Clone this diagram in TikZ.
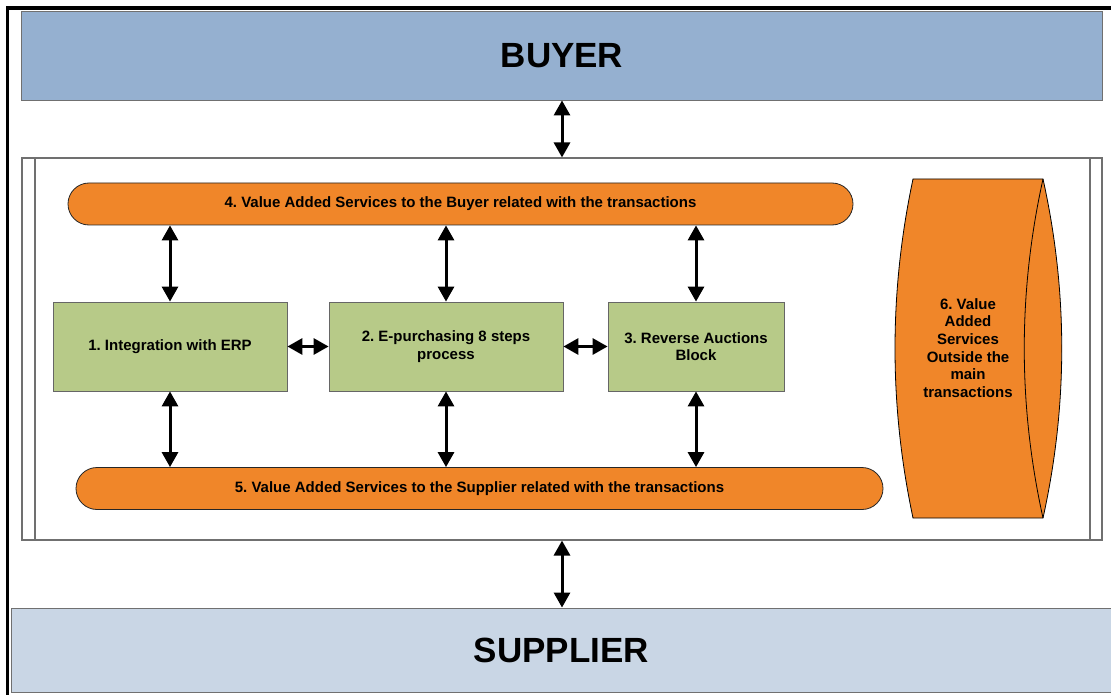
\documentclass[tikz,border=0pt]{standalone}
\usepackage{fontspec}
\setmainfont{Liberation Sans}
\usetikzlibrary{arrows.meta}

\definecolor{buyerblue}{RGB}{149,176,208}
\definecolor{supplierblue}{RGB}{201,214,229}
\definecolor{vasorange}{RGB}{240,134,41}
\definecolor{stepgreen}{RGB}{183,202,136}
\definecolor{framegrey}{RGB}{112,112,112}

\tikzset{
  lbl/.style={font=\frenchspacing\bfseries\fontsize{15}{17.6}\selectfont, align=center, text=black},
  party/.style={draw=framegrey, line width=0.9pt, inner sep=0pt, anchor=center,
    font=\bfseries\fontsize{35}{40}\selectfont},
  vasbar/.style={lbl, draw=black!85, line width=0.8pt, fill=vasorange,
    rounded corners=21pt, minimum height=42pt, inner sep=0pt, anchor=center},
  stepbox/.style={lbl, draw=black!60, line width=0.8pt, fill=stepgreen,
    minimum height=89pt, inner sep=0pt, anchor=center},
  link/.style={line width=3pt, {Triangle[length=15pt 0 0,width=16pt 0 0]}-{Triangle[length=15pt 0 0,width=16pt 0 0]}},
}

\begin{document}
\begin{tikzpicture}[x=1pt, y=-1pt]
  \useasboundingbox (0,0) rectangle (1111,695);

  % page frame (top and left edges)
  \draw[line width=3.8pt] (7.5,695) -- (7.5,8) -- (1111,8);

  % the two parties
  \node[party, fill=buyerblue, minimum width=1081pt, minimum height=89pt]
    (buyer) at (562,55.5) {BUYER};
  \node[party, fill=supplierblue, minimum width=1101pt, minimum height=84pt]
    (supplier) at (561.5,650) {SUPPLIER};

  % platform frame with side bars
  \node[draw=framegrey, line width=1.1pt, minimum width=1080pt, minimum height=382pt,
    inner sep=0pt, anchor=center] (frame) at (562,349) {};
  \draw[framegrey, line width=1.1pt] (35,158) -- (35,540);
  \draw[framegrey, line width=1.1pt] (1090,158) -- (1090,540);

  % value added service bars
  \node[vasbar, minimum width=785pt] (vasb) at (460.5,204)
    {4. Value Added Services to the Buyer related with the transactions};
  \node[vasbar, minimum width=807pt] (vass) at (479.5,488.5)
    {5. Value Added Services to the Supplier related with the transactions};

  % process blocks
  \node[stepbox, minimum width=234pt] (erp)  at (170,346.5) {1. Integration with ERP};
  \node[stepbox, minimum width=234pt] (epur) at (446,346.5) {2. E-purchasing 8 steps\\process};
  \node[stepbox, minimum width=176pt] (rev)  at (696,346.5) {3. Reverse Auctions\\Block};

  % services outside the main transactions
  \filldraw[fill=vasorange, draw=black, line width=0.8pt]
    (913,179) -- (1043,179)
    .. controls (1068,292) and (1068,405) .. (1043,518)
    -- (913,518)
    .. controls (889,405) and (889,292) .. (913,179) -- cycle;
  \draw[black, line width=0.8pt]
    (1043,179) .. controls (1018,292) and (1018,405) .. (1043,518);
  \node[lbl, anchor=center] (outside) at (968,348)
    {6. Value\\Added\\Services\\Outside the\\main\\transactions};

  % connectors
  \draw[link] (buyer.south) -- (frame.north);
  \draw[link] (frame.south) -- (frame.south |- supplier.north);

  \draw[link] (erp.north |- vasb.south) -- (erp.north);
  \draw[link] (epur.north |- vasb.south) -- (epur.north);
  \draw[link] (rev.north |- vasb.south) -- (rev.north);

  \draw[link] (erp.south) -- (erp.south |- vass.north);
  \draw[link] (epur.south) -- (epur.south |- vass.north);
  \draw[link] (rev.south) -- (rev.south |- vass.north);

  \draw[link] (erp.east) -- (epur.west);
  \draw[link] (epur.east) -- (rev.west);
\end{tikzpicture}
\end{document}
